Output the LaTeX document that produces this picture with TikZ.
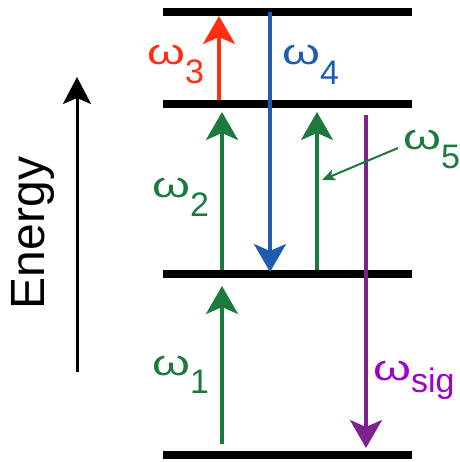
\documentclass[tikz,border=0pt]{standalone}
\usepackage{fontspec}
\setmainfont{Liberation Sans}
\usetikzlibrary{arrows.meta}
\definecolor{cred}{HTML}{FF2E12}
\definecolor{cblue}{HTML}{1E5CB0}
\definecolor{cgreen}{HTML}{1B7A3C}
\definecolor{cpurple}{HTML}{7E2290}
\definecolor{csig}{HTML}{A000CC}
\newcommand{\wom}{\scalebox{1.35}[1.0]{ω}}
\begin{document}
\begin{tikzpicture}[x=1pt,y=-1pt,
  levelbar/.style={line width=8pt},
  trans/.style={line width=3.5pt,-{Stealth[length=28pt,width=32pt,inset=7pt]}},
  pointer/.style={line width=2pt,-{Stealth[length=13pt,width=11pt,inset=3pt]}},
  lab/.style={anchor=base west,inner sep=0pt,font=\fontsize{36}{36}\selectfont},
  sub/.style={anchor=base west,inner sep=0pt,font=\fontsize{34}{34}\selectfont}]
\useasboundingbox (0,0) rectangle (459,462);
% levels
\coordinate (L1a) at (163,12);  \coordinate (L1b) at (412,12);
\coordinate (L2a) at (163,104); \coordinate (L2b) at (412,104);
\coordinate (L3a) at (163,274); \coordinate (L3b) at (412,274);
\coordinate (L4a) at (163,455); \coordinate (L4b) at (412,455);
\draw[levelbar] (L1a) -- (L1b);
\draw[levelbar] (L2a) -- (L2b);
\draw[levelbar] (L3a) -- (L3b);
\draw[levelbar] (L4a) -- (L4b);
% transitions
\coordinate (w3s) at (219,100); \coordinate (w3e) at (219,16);
\coordinate (w4s) at (270,12);  \coordinate (w4e) at (270,272);
\coordinate (w2s) at (222,270); \coordinate (w2e) at (222,112);
\coordinate (w5s) at (317,270); \coordinate (w5e) at (317,112);
\coordinate (w1s) at (222,444); \coordinate (w1e) at (222,286);
\coordinate (wss) at (366,115); \coordinate (wse) at (366,448);
\draw[trans,cred] (w3s) -- (w3e);
\draw[trans,cblue] (w4s) -- (w4e);
\draw[trans,cgreen] (w2s) -- (w2e);
\draw[trans,cgreen] (w5s) -- (w5e);
\draw[trans,cgreen] (w1s) -- (w1e);
\draw[trans,cpurple] (wss) -- (wse);
% pointer
\coordinate (ps) at (398,148); \coordinate (pe) at (322,180);
\draw[pointer,cgreen] (ps) -- (pe);
% energy axis
\coordinate (es) at (77,372); \coordinate (ee) at (77,77);
\draw[line width=3pt,-{Stealth[length=27pt,width=28pt,inset=6pt]}] (es) -- (ee);
\node[rotate=90,inner sep=0pt,font=\fontsize{48}{48}\selectfont] (en) at (33,233) {Energy};
% labels
\node[lab,text=cred] (l3) at (147,65) {\wom\raisebox{-19pt}{\fontsize{34}{34}\selectfont 3}};
\node[lab,text=cblue] (l4) at (282,65) {\wom\raisebox{-20pt}{\fontsize{34}{34}\selectfont 4}};
\node[lab,text=cgreen] (l2) at (152,197) {\wom\raisebox{-19pt}{\fontsize{34}{34}\selectfont 2}};
\node[lab,text=cgreen] (l5) at (403,150) {\wom\raisebox{-18pt}{\fontsize{34}{34}\selectfont 5}};
\node[lab,text=cgreen] (l1) at (152,375) {\wom\raisebox{-18pt}{\fontsize{34}{34}\selectfont 1}};
\node[lab,text=csig] (ls) at (373,380) {\wom\raisebox{-12pt}{\fontsize{34}{34}\selectfont sig}};
\end{tikzpicture}
\end{document}
